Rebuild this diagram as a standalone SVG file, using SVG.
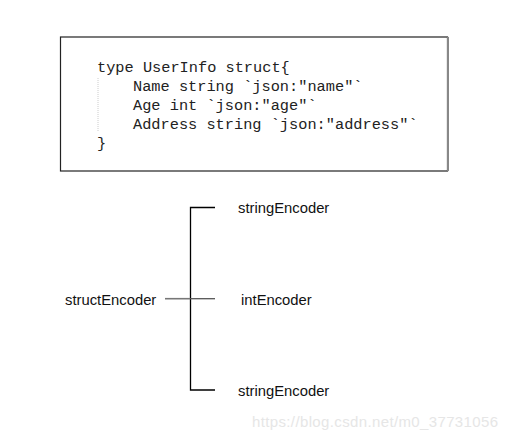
<svg xmlns="http://www.w3.org/2000/svg" width="508" height="440" viewBox="0 0 508 440">
<style>
.code{font-family:"Liberation Mono",monospace;font-size:15.3px;fill:#222}
.lbl{font-family:"Liberation Sans",Arial,sans-serif;font-size:14.8px;fill:#111}
.ln{stroke:#000;stroke-width:1.3;fill:none}
</style>
<rect width="508" height="440" fill="#fff"/>
<g id="codebox">
<rect x="60.5" y="37" width="387" height="134" fill="#fff" stroke="#222" stroke-width="1.2"/>
<line x1="448" y1="37" x2="448" y2="171" stroke="#888" stroke-width="2"/>
<line x1="98" y1="78" x2="98" y2="132" stroke="#ccc" stroke-width="1" stroke-dasharray="1,1"/>
<text class="code" x="97" y="72">type UserInfo struct{</text>
<text class="code" x="133" y="91">Name string `json:"name"`</text>
<text class="code" x="133" y="110">Age int `json:"age"`</text>
<text class="code" x="133" y="129">Address string `json:"address"`</text>
<text class="code" x="97" y="148">}</text>
</g>
<g id="connectors">
<path class="ln" d="M215 207.5 H190.5 V390 H215"/>
<line x1="165" y1="298.7" x2="190" y2="298.7" stroke="#777" stroke-width="1.6"/>
<line x1="190" y1="298.7" x2="215" y2="298.7" stroke="#555" stroke-width="1.3"/>
</g>
<g id="structEncoder"><text class="lbl" x="65" y="305">structEncoder</text></g>
<g id="stringEncoder1"><text class="lbl" x="238" y="213">stringEncoder</text></g>
<g id="intEncoder"><text class="lbl" x="241" y="305">intEncoder</text></g>
<g id="stringEncoder2"><text class="lbl" x="238" y="396">stringEncoder</text></g>
<text x="252" y="427" font-family="Liberation Sans,Arial,sans-serif" font-size="15" fill="#e6e6e6" textLength="246">https://blog.csdn.net/m0_37731056</text>
</svg>
